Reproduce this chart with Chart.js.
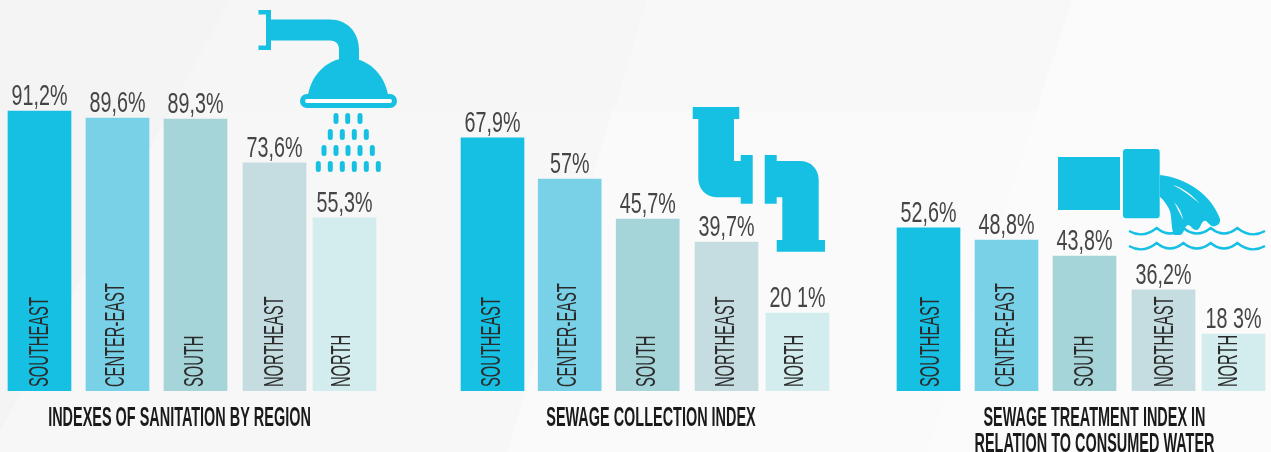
<!DOCTYPE html>
<html>
<head>
<meta charset="utf-8">
<script src="https://cdn.jsdelivr.net/npm/chart.js@4"></script>
<style>
  html, body { margin: 0; padding: 0; width: 1271px; height: 452px; overflow: hidden; }
  body { position: relative; background: #fbfbfb; }
  canvas { position: absolute; top: 0; }
  #icons { position: absolute; left: 0; top: 0; }
</style>
</head>
<body>
<svg id="icons" width="1271" height="452" viewBox="0 0 1271 452">
  <!-- faint background facets -->
  <polygon points="0,0 1072,0 928,452 0,452" fill="#fafafa"/>
  <polygon points="0,0 647,0 507,452 0,452" fill="#f7f7f7"/>
  <polygon points="647,0 1072,0 1036,111 614,111" fill="#f8f8f8"/>
  <polygon points="0,0 647,0 614,111 0,111" fill="#f6f6f6"/>
  <polygon points="0,0 229,0 0,432" fill="#f4f4f4"/>
  <g fill="#15c0e3">
    <!-- shower -->
    <path d="M258.5 10H271V19.5H330C347 19.5 359 32 359 50V62H339V50C339 44 336 40.5 330 40.5H271V50H258.5V45.5H266V14.5H258.5Z"/>
    <path d="M308 95C312 72 330 58 348 58C366 58 384 72 388 95Z"/>
    <rect x="302.5" y="96.5" width="92" height="9" rx="4.5" fill="#fff" stroke="#15c0e3" stroke-width="5"/>
    <path fill="none" stroke="#15c0e3" stroke-width="5" stroke-linecap="round" d="M336 115.5v6M347.7 115.5v6M360 115.5v6M330.3 131.5v6M342.3 131.5v6M354.3 131.5v6M366.3 131.5v6M324 147.5v6M336 147.5v6M348 147.5v6M360 147.5v6M372.3 147.5v6M318.3 163.5v6M330.3 163.5v6M342.3 163.5v6M354.3 163.5v6M366.3 163.5v6M378.3 163.5v6"/>
    <!-- pipes -->
    <path d="M692.7 107H739.3V119H734V161H740.7V155H752.7V203.7H740.7V197.3H716.7C706 197.3 698.3 189 698.3 178.3V119H692.7Z"/>
    <path d="M764.7 155H776.7V161H800C811 161 818.7 169 818.7 180V240H825V251.7H776.7V240H782.3V197.3H776.7V203.7H764.7Z"/>
    <!-- outfall -->
    <rect x="1058" y="157" width="62" height="53"/>
    <rect x="1123" y="149" width="36.7" height="69.3" rx="3"/>
    <path d="M1159.7 175C1188 178 1212 196 1220 219C1221 225 1215 227 1211.7 226C1208 224 1207 220 1204 221C1201 222 1200 230 1196.7 230C1192 230 1191 225 1188 225C1184 226 1184 235 1180 235L1174 235C1170 225 1173 215 1168 207C1165 202 1163 199 1159.7 196.7Z"/>
  </g>
  <g fill="#fbfbfb">
    <path d="M1172.7 185C1184 188 1193 196 1199.3 203.3C1192 197 1183 190 1172.7 185Z"/>
    <path d="M1174.3 202.3C1179 207 1182 214 1183.3 220C1180 214 1177 208 1174.3 202.3Z"/>
  </g>
  <g fill="none" stroke="#15c0e3" stroke-width="2.4">
    <path d="M1129 231Q1143 239 1156.7 228Q1170 239 1183.3 228Q1197 239 1210.7 228Q1224 239 1237.3 228Q1251 239 1265 231"/>
    <path d="M1129 246Q1143 254 1156.7 243Q1170 254 1183.3 243Q1197 254 1210.7 243Q1224 254 1237.3 243Q1251 254 1265 246"/>
  </g>
</svg>
<canvas id="chart1" width="382" height="452" style="left:0"></canvas>
<canvas id="chart2" width="382" height="452" style="left:453px"></canvas>
<canvas id="chart3" width="382" height="452" style="left:889px"></canvas>
<script>
// Data
const regions = ['SOUTHEAST', 'CENTER-EAST', 'SOUTH', 'NORTHEAST', 'NORTH'];
const sanitationBars = [91.2, 88.9, 88.6, 74.3, 56.4];
const sanitationLabels = ['91,2%', '89,6%', '89,3%', '73,6%', '55,3%'];
const collectionBars = [67.9, 56.8, 46.1, 39.9, 20.9];
const collectionLabels = ['67,9%', '57%', '45,7%', '39,7%', '20 1%'];
const treatmentBars = [52.6, 48.7, 43.5, 32.6, 18.4];
const treatmentLabels = ['52,6%', '48,8%', '43,8%', '36,2%', '18 3%'];

// Layout
const barColors = ['#15c0e3', '#79d1e7', '#a5d4d9', '#c5dde0', '#d3edee'];
const slotsA = [0, 1, 2, 3.013, 3.91];
const slotsB = [0, 0.99, 1.99, 3, 3.91];
const FONT = '"Liberation Sans", sans-serif';

// fillText with a max width squeezes the glyphs, no condensed font is installed
function squeezed(ctx, text, x, y, ratio) {
  ctx.fillText(text, x, y, ctx.measureText(text).width * ratio);
}

function makeChart(id, bars, valueLabels, slots, yMax, titleLines, titleX, nudge) {
  const textPlugin = {
    id: 'texts',
    afterDatasetsDraw(chart) {
      const ctx = chart.ctx;
      ctx.save();
      ctx.textBaseline = 'alphabetic';

      ctx.font = '29px ' + FONT;
      ctx.fillStyle = '#454545';
      ctx.textAlign = 'center';
      chart.getDatasetMeta(0).data.forEach((bar, i) => {
        squeezed(ctx, valueLabels[i], bar.x, bar.y - 6, 0.68);
      });

      ctx.font = '27.5px ' + FONT;
      ctx.fillStyle = '#2b2b2b';
      ctx.textAlign = 'left';
      chart.getDatasetMeta(0).data.forEach((bar, i) => {
        ctx.save();
        ctx.translate(bar.x + nudge[i], 387);
        ctx.rotate(-Math.PI / 2);
        squeezed(ctx, regions[i], 0, 0, 0.535);
        ctx.restore();
      });

      ctx.font = 'bold 27px ' + FONT;
      ctx.fillStyle = '#1a1a1a';
      ctx.textAlign = 'center';
      titleLines.forEach((line, i) => {
        squeezed(ctx, line, titleX, 426 + i * 26, 0.535);
      });
      ctx.restore();
    }
  };

  return new Chart(document.getElementById(id).getContext('2d'), {
    type: 'bar',
    data: {
      datasets: [{
        data: bars.map((v, i) => ({ x: slots[i], y: v })),
        backgroundColor: barColors,
        borderWidth: 0,
        barThickness: 63
      }]
    },
    options: {
      responsive: false,
      animation: false,
      layout: { padding: { bottom: 61 } },
      plugins: { legend: { display: false }, tooltip: { enabled: false } },
      scales: {
        x: { type: 'linear', display: false, offset: false, min: -39.5 / 78, max: 342.5 / 78 },
        y: { display: false, min: 0, max: yMax }
      }
    },
    plugins: [textPlugin]
  });
}

makeChart('chart1', sanitationBars, sanitationLabels, slotsA, 127.36,
  ['INDEXES OF SANITATION BY REGION'], 179.5, [8, 6, 7, 8, 6]);
makeChart('chart2', collectionBars, collectionLabels, slotsB, 104.83,
  ['SEWAGE COLLECTION INDEX'], 198, [7, 6, 7, 7, 6]);
makeChart('chart3', treatmentBars, treatmentLabels, slotsA, 126.13,
  ['SEWAGE TREATMENT INDEX IN', 'RELATION TO CONSUMED WATER'], 205.5, [10, 7.5, 8.5, 9.5, 4]);
</script>
</body>
</html>
